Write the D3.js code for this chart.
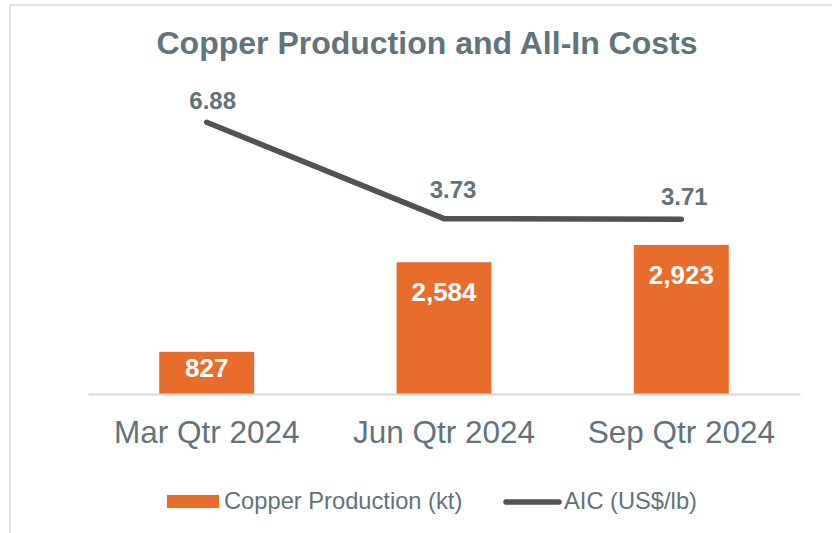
<!DOCTYPE html>
<html>
<head>
<meta charset="utf-8">
<script src="https://cdn.jsdelivr.net/npm/d3@7"></script>
<style>
  html, body { margin: 0; padding: 0; background: #fff; }
  svg { display: block; font-family: "Liberation Sans", Arial, sans-serif; }
</style>
</head>
<body>
<svg id="chart" width="832" height="533"></svg>
<script>
// ---- Data ----
const categories = ["Mar Qtr 2024", "Jun Qtr 2024", "Sep Qtr 2024"];
const copperProduction = [827, 2584, 2923];   // kt
const aic = [6.88, 3.73, 3.71];               // US$/lb
const barLabels = ["827", "2,584", "2,923"];
const lineLabels = ["6.88", "3.73", "3.71"];
const seriesNames = ["Copper Production (kt)", "AIC (US$/lb)"];
const titleText = "Copper Production and All-In Costs";

// ---- Style / layout ----
const W = 832, H = 533;
const plot = { left: 88, right: 800, top: 88, bottom: 394 };
const orange = "#E86D2D";
const lineColor = "#525252";
const textGrey = "#63737a";
const barLabelDy = [25, 39, 39];
const lineLabelDx = [6, 9, 3];
const lineLabelDy = [-13, -21, -14];

const svg = d3.select("#chart");

// frame border (partial, as in reference)
svg.append("path")
  .attr("d", `M10,${H} L10,5 L${W},5`)
  .attr("fill", "none")
  .attr("stroke", "#d9d9d9")
  .attr("stroke-width", 1.5);

// title
svg.append("text")
  .attr("x", 427).attr("y", 54)
  .attr("text-anchor", "middle")
  .attr("font-size", 32).attr("font-weight", "bold")
  .attr("fill", textGrey)
  .text(titleText);

// scales
const x = d3.scaleBand().domain(categories).range([plot.left, plot.right]).padding(0);
const yBar = d3.scaleLinear().domain([0, 6000]).range([plot.bottom, plot.top]);
const yLine = d3.scaleLinear().domain([-2, 8]).range([plot.bottom, plot.top]);
const barW = x.bandwidth() * 0.4;
const cx = c => x(c) + x.bandwidth() / 2;

// bars
svg.append("g").selectAll("rect")
  .data(categories)
  .join("rect")
  .attr("x", (c) => cx(c) - barW / 2)
  .attr("y", (c, i) => yBar(copperProduction[i]))
  .attr("width", barW)
  .attr("height", (c, i) => yBar(0) - yBar(copperProduction[i]))
  .attr("fill", orange);

// x axis
const xAxis = d3.axisBottom(x).tickSize(0).tickPadding(0);
const gx = svg.append("g").attr("transform", `translate(0,${plot.bottom})`).call(xAxis);
gx.select(".domain").attr("stroke", "#d9d9d9").attr("stroke-width", 2);
gx.selectAll(".tick text")
  .attr("dy", 0).attr("y", 49)
  .attr("font-size", 31.5)
  .attr("font-family", "Liberation Sans, Arial, sans-serif")
  .attr("fill", textGrey);

// bar labels
svg.append("g").selectAll("text")
  .data(categories)
  .join("text")
  .attr("x", c => cx(c))
  .attr("y", (c, i) => yBar(copperProduction[i]) + barLabelDy[i])
  .attr("text-anchor", "middle")
  .attr("font-size", 26).attr("font-weight", "bold")
  .attr("fill", "#ffffff")
  .text((c, i) => barLabels[i]);

// line
const lineGen = d3.line()
  .x((d, i) => cx(categories[i]))
  .y(d => yLine(d));
svg.append("path")
  .datum(aic)
  .attr("d", lineGen)
  .attr("fill", "none")
  .attr("stroke", lineColor)
  .attr("stroke-width", 5.5)
  .attr("stroke-linecap", "round")
  .attr("stroke-linejoin", "round");

// line labels
svg.append("g").selectAll("text")
  .data(aic)
  .join("text")
  .attr("x", (d, i) => cx(categories[i]) + lineLabelDx[i])
  .attr("y", (d, i) => yLine(d) + lineLabelDy[i])
  .attr("text-anchor", "middle")
  .attr("font-size", 24).attr("font-weight", "bold")
  .attr("fill", textGrey)
  .text((d, i) => lineLabels[i]);

// legend
const lg = svg.append("g");
lg.append("rect").attr("x", 167).attr("y", 495).attr("width", 52).attr("height", 13).attr("fill", orange);
lg.append("text").attr("x", 224).attr("y", 509)
  .attr("font-size", 23.7).attr("fill", textGrey).text(seriesNames[0]);
lg.append("line").attr("x1", 506).attr("x2", 559).attr("y1", 502).attr("y2", 502)
  .attr("stroke", lineColor).attr("stroke-width", 5.5).attr("stroke-linecap", "round");
lg.append("text").attr("x", 564).attr("y", 509)
  .attr("font-size", 23.7).attr("fill", textGrey).text(seriesNames[1]);
</script>
</body>
</html>
